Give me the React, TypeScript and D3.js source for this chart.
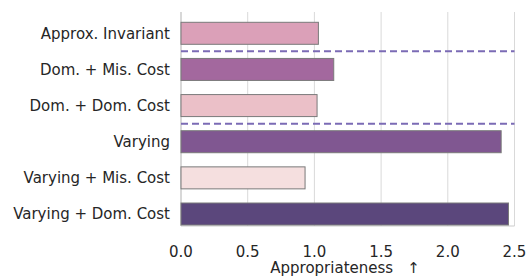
import React, { FC, useEffect, useRef } from "react"
import { scaleLinear, select } from "d3"

const categories = [
  "Approx. Invariant",
  "Dom. + Mis. Cost",
  "Dom. + Dom. Cost",
  "Varying",
  "Varying + Mis. Cost",
  "Varying + Dom. Cost",
]
const values = [1.03, 1.145, 1.02, 2.4, 0.93, 2.455]
const colors = ["#dba0b8", "#a3689e", "#ebc0c8", "#805791", "#f5dfdf", "#5b477c"]
const xTicks = [0, 0.5, 1.0, 1.5, 2.0, 2.5]
const separators = [0.5, 2.5]
const xLabel = "Appropriateness"
const xLabelArrow = "↑"

const App: FC = () => {
  const ref = useRef<SVGSVGElement>(null)

  useEffect(() => {
    const width = 528
    const height = 280
    const left = 181
    const right = 514.5
    const top = 12
    const bottom = 226

    const svg = select(ref.current)
    svg.selectAll("*").remove()

    const x = scaleLinear().domain([0, 2.5]).range([left, right])
    // index -> center y
    const y = scaleLinear().domain([0, 5]).range([33.3, 214])
    const barH = 22

    const font = "DejaVu Sans, sans-serif"
    const textColor = "#262626"
    const fontSize = 15

    // grid
    svg
      .append("g")
      .selectAll("line")
      .data(xTicks)
      .join("line")
      .attr("x1", (d) => x(d))
      .attr("x2", (d) => x(d))
      .attr("y1", top)
      .attr("y2", bottom)
      .attr("stroke", "#d9d9d9")
      .attr("stroke-width", 1)

    // spines
    svg
      .append("line")
      .attr("x1", left)
      .attr("x2", left)
      .attr("y1", top)
      .attr("y2", bottom)
      .attr("stroke", "#cccccc")
      .attr("stroke-width", 1.2)
    svg
      .append("line")
      .attr("x1", left)
      .attr("x2", right)
      .attr("y1", bottom)
      .attr("y2", bottom)
      .attr("stroke", "#cccccc")
      .attr("stroke-width", 1.2)

    // bars
    svg
      .append("g")
      .selectAll("rect")
      .data(values)
      .join("rect")
      .attr("x", x(0))
      .attr("y", (_, i) => y(i) - barH / 2)
      .attr("width", (d) => x(d) - x(0))
      .attr("height", barH)
      .attr("fill", (_, i) => colors[i])
      .attr("stroke", "#7a7a7a")
      .attr("stroke-width", 1)

    // separators
    svg
      .append("g")
      .selectAll("line")
      .data(separators)
      .join("line")
      .attr("x1", left)
      .attr("x2", right)
      .attr("y1", (d) => y(d))
      .attr("y2", (d) => y(d))
      .attr("stroke", "#7b6bb5")
      .attr("stroke-width", 2)
      .attr("stroke-dasharray", "7,4")

    // y labels
    svg
      .append("g")
      .selectAll("text")
      .data(categories)
      .join("text")
      .attr("x", 170)
      .attr("y", (_, i) => y(i))
      .attr("dy", "0.35em")
      .attr("text-anchor", "end")
      .attr("font-family", font)
      .attr("font-size", fontSize)
      .attr("fill", textColor)
      .text((d) => d)

    // x tick labels
    svg
      .append("g")
      .selectAll("text")
      .data(xTicks)
      .join("text")
      .attr("x", (d) => x(d))
      .attr("y", 257)
      .attr("text-anchor", "middle")
      .attr("font-family", font)
      .attr("font-size", fontSize)
      .attr("fill", textColor)
      .text((d) => d.toFixed(1))

    // x label
    const title = svg
      .append("text")
      .attr("x", 345)
      .attr("y", 273)
      .attr("text-anchor", "middle")
      .attr("font-family", font)
      .attr("font-size", fontSize)
      .attr("fill", textColor)
    title.append("tspan").text(xLabel)
    title.append("tspan").attr("dx", 14).text(xLabelArrow)

    svg.attr("width", width).attr("height", height)
  }, [])

  return (
    <svg
      ref={ref}
      width={528}
      height={280}
      style={{ position: "absolute", left: 0, top: 0, background: "#fff" }}
    />
  )
}

export default App
